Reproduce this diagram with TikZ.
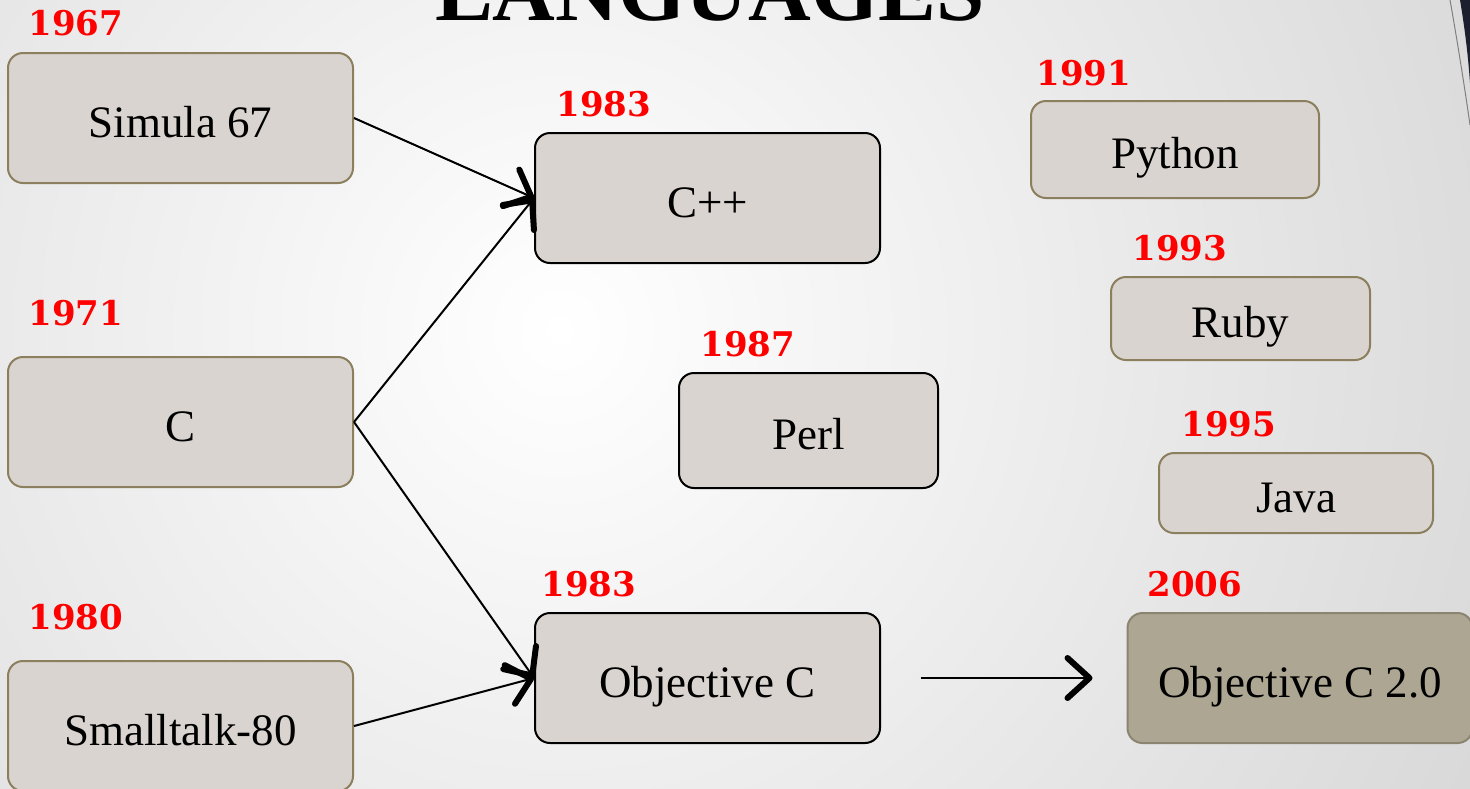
\documentclass[tikz,border=0pt]{standalone}
\usepackage{fontspec}
\setmainfont{Liberation Serif}
\newfontfamily\yearfont{DejaVu Serif}
\usepackage{graphicx}
\usetikzlibrary{arrows.meta}

\definecolor{boxfill}{HTML}{D9D4CF}
\definecolor{boxtan}{HTML}{8C7F5E}
\definecolor{newfill}{HTML}{ADA692}
\definecolor{newline}{HTML}{8A8470}
\definecolor{corner}{HTML}{1C1F2E}

\tikzset{
  lang/.style={draw=boxtan, fill=boxfill, line width=1pt, rounded corners=7.5pt,
    minimum width=172.5pt, minimum height=65pt, text height=20pt, text depth=1pt,
    font=\fontsize{22.5}{26}\selectfont},
  langdark/.style={lang, draw=black},
  year/.style={anchor=base west, text=red, inner sep=0pt,
    font=\yearfont\bfseries\fontsize{17}{20}\selectfont},
  link/.style={line width=1pt, -{Straight Barb[length=11pt, width=20pt, line width=3pt, round]}}
}

\begin{document}
\begin{tikzpicture}[x=0.5pt, y=-0.5pt]
    \useasboundingbox (0, 0) rectangle (1470, 788);
    \begin{scope}
    \clip (0, 0) rectangle (1470, 788);
    \shade[inner color=white, outer color=gray!50] (560, 330) circle (1700);
    \fill[corner] (1460, 0) .. controls (1465, 30) and (1468, 55) .. (1470, 83) -- (1470, 0) -- cycle;
    \draw[gray, line width=0.5pt] (1450, 0) .. controls (1458, 45) and (1465, 90) .. (1470, 125);
    \node[anchor=base, inner sep=0pt] (title) at (710, 20)
      {\resizebox{275pt}{28pt}{\bfseries LANGUAGES}};

    \node[lang] (simula) at (180.5, 118) {Simula 67};
    \node[lang] (c) at (180.5, 422) {C};
    \node[lang] (small) at (180.5, 726) {Smalltalk-80};
    \node[langdark] (cpp) at (707.5, 198) {C++};
    \node[langdark, minimum width=129.5pt, minimum height=57.5pt] (perl) at (808.5, 430.5) {Perl};
    \node[langdark] (objc) at (707.5, 678) {Objective C};
    \node[lang, minimum width=144pt, minimum height=48.5pt] (python) at (1175, 149.5) {Python};
    \node[lang, minimum width=129.5pt, minimum height=41.5pt] (ruby) at (1240.5, 318.5) {Ruby};
    \node[lang, minimum width=137pt, minimum height=40pt] (java) at (1296, 493) {Java};
    \node[lang, draw=newline, fill=newfill] (objctwo) at (1300, 678) {Objective C 2.0};

    \node[year] at (28, 35) {1967};
    \node[year] at (28, 325) {1971};
    \node[year] at (28, 629) {1980};
    \node[year] at (556, 116) {1983};
    \node[year] at (700, 356) {1987};
    \node[year] at (541, 596) {1983};
    \node[year] at (1036, 85) {1991};
    \node[year] at (1132, 260) {1993};
    \node[year] at (1181, 436) {1995};
    \node[year] at (1147, 596) {2006};

    \draw[link] (simula.east) -- (cpp.west);
    \draw[link] (c.east) -- (cpp.west);
    \draw[link] (c.east) -- (objc.west);
    \draw[link] (small.east) -- (objc.west);
    \draw[link] ([xshift=20pt]objc.east) -- ([xshift=-17pt]objctwo.west);
    \end{scope}
\end{tikzpicture}
\end{document}
